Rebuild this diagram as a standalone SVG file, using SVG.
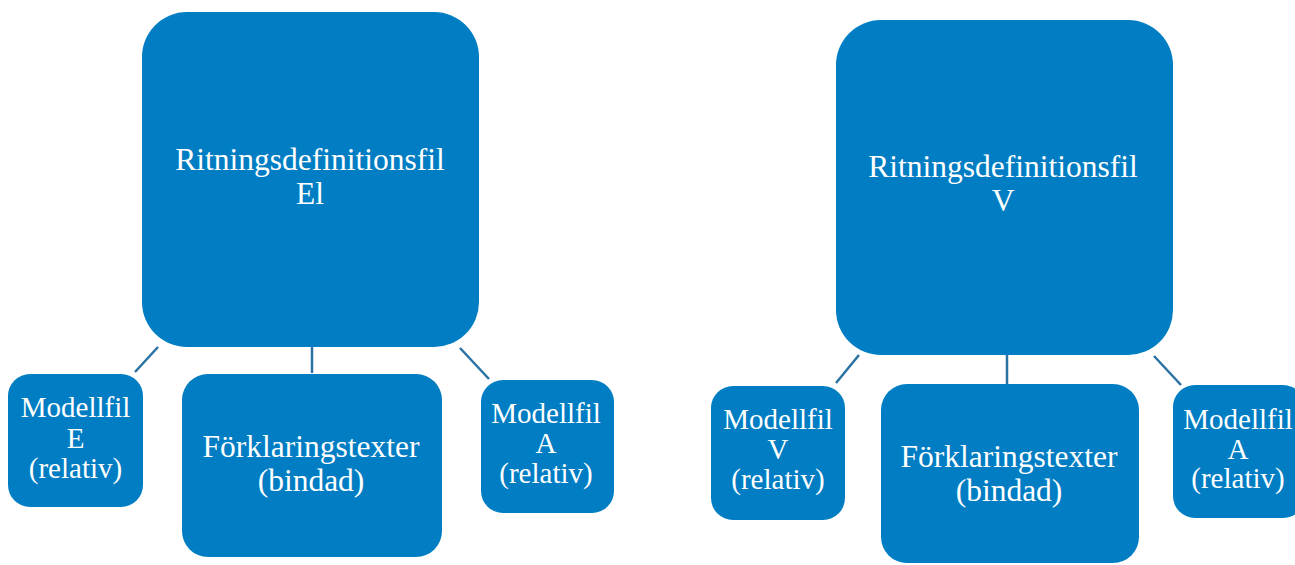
<svg xmlns="http://www.w3.org/2000/svg" width="1295" height="565" viewBox="0 0 1295 565">
<style>
.box{fill:#007dc3;}
.t{font-family:'Liberation Serif','DejaVu Serif',serif;fill:#ffffff;text-anchor:middle;}
.big{font-size:31.5px;}
.mid{font-size:31.5px;}
.sm{font-size:29px;}
.c{stroke:#2a72a3;stroke-width:2.5;fill:none;}
</style>
<rect width="1295" height="565" fill="#ffffff"/>
<g id="connectors">
<line class="c" x1="158" y1="347" x2="135" y2="372"/>
<line class="c" x1="312" y1="347" x2="312" y2="373"/>
<line class="c" x1="460" y1="348" x2="489" y2="379"/>
<line class="c" x1="859" y1="355" x2="836" y2="383"/>
<line class="c" x1="1007" y1="355" x2="1007" y2="384"/>
<line class="c" x1="1154" y1="356" x2="1181" y2="385"/>
</g>
<g id="rit-el">
<rect class="box" x="142" y="12" width="337" height="335" rx="45"/>
<text class="t big" font-family="Liberation Serif" x="310" y="170">Ritningsdefinitionsfil</text>
<text class="t big" font-family="Liberation Serif" x="310" y="204">El</text>
</g>
<g id="modell-e">
<rect class="box" x="8" y="374" width="135" height="133" rx="22"/>
<text class="t sm" x="75.5" y="417">Modellfil</text>
<text class="t sm" x="75.5" y="448">E</text>
<text class="t sm" x="75.5" y="478">(relativ)</text>
</g>
<g id="forkl-el">
<rect class="box" x="182" y="374" width="260" height="183" rx="26"/>
<text class="t mid" x="311" y="457">Förklaringstexter</text>
<text class="t mid" x="311" y="491">(bindad)</text>
</g>
<g id="modell-a-el">
<rect class="box" x="481" y="380" width="133" height="133" rx="22"/>
<text class="t sm" x="546" y="423">Modellfil</text>
<text class="t sm" x="546" y="453">A</text>
<text class="t sm" x="546" y="483">(relativ)</text>
</g>
<g id="rit-v">
<rect class="box" x="836" y="20" width="337" height="335" rx="45"/>
<text class="t big" x="1003" y="177">Ritningsdefinitionsfil</text>
<text class="t big" x="1003" y="211">V</text>
</g>
<g id="modell-v">
<rect class="box" x="711" y="386" width="134" height="134" rx="22"/>
<text class="t sm" x="778" y="429">Modellfil</text>
<text class="t sm" x="778" y="459">V</text>
<text class="t sm" x="778" y="489">(relativ)</text>
</g>
<g id="forkl-v">
<rect class="box" x="881" y="384" width="258" height="179" rx="26"/>
<text class="t mid" x="1009" y="467">Förklaringstexter</text>
<text class="t mid" x="1009" y="501">(bindad)</text>
</g>
<g id="modell-a-v">
<rect class="box" x="1173" y="385" width="132" height="133" rx="22"/>
<text class="t sm" x="1238" y="429">Modellfil</text>
<text class="t sm" x="1238" y="459">A</text>
<text class="t sm" x="1238" y="488">(relativ)</text>
</g>
</svg>
